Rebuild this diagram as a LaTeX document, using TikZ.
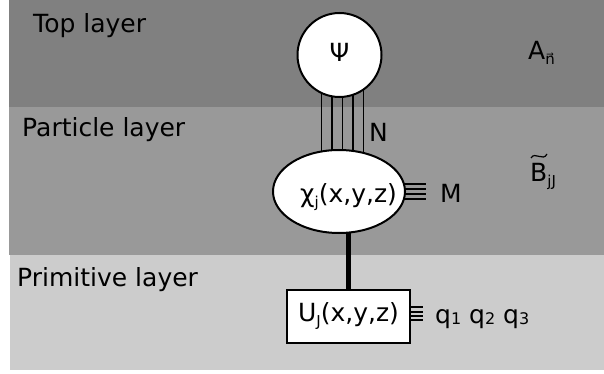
\documentclass[tikz,border=0pt]{standalone}
\usepackage{fontspec}
\setmainfont{DejaVu Sans}
\usetikzlibrary{calc,shapes.geometric}

\definecolor{topband}{HTML}{808080}
\definecolor{partband}{HTML}{999999}
\definecolor{primband}{HTML}{CCCCCC}

% lowered, smaller subscript text
\newcommand{\lowsub}[1]{\raisebox{-0.2em}{\fontsize{15}{15}\selectfont #1}}
% small digit index sitting near the baseline
\newcommand{\digsub}[1]{\raisebox{-1pt}{\fontsize{16}{16}\selectfont #1}}

\pgfdeclarelayer{bands}
\pgfdeclarelayer{links}
\pgfsetlayers{bands,links,main}

\begin{document}
\begin{tikzpicture}[x=1pt,y=-1pt,font=\fontsize{25}{30}\selectfont,
  lbl/.style={anchor=base west,inner sep=0pt},
  wire/.style={line width=1.7pt},
  outline/.style={draw,fill=white,inner sep=0pt}]
\useasboundingbox (0,0) rectangle (604,374);

% layer bands
\begin{pgfonlayer}{bands}
  \fill[topband]  (9,0)    rectangle (604,107);
  \fill[partband] (9,107)  rectangle (604,255);
  \fill[primband] (10,255) rectangle (604,370);
\end{pgfonlayer}

% layer titles
\node[lbl] (toplbl)  at (33,33)  {Top layer};
\node[lbl] (partlbl) at (22,137) {Particle layer};
\node[lbl] (primlbl) at (17,286) {Primitive layer};

% main nodes
\node[outline,circle,line width=2pt,minimum size=84pt] (psi) at (339.5,55) {\raisebox{6pt}{Ψ}};
\node[outline,ellipse,line width=2pt,minimum width=132pt,minimum height=83pt] (chi) at (339,191.5) {};
\node[lbl] (chitext) at (300,202) {χ\lowsub{j}(x,y,z)};
\node[outline,rectangle,line width=1.5pt,minimum width=123pt,minimum height=53pt] (prim) at (348.5,316.5) {U\lowsub{J}(x,y,z)};

% connectors
\begin{pgfonlayer}{links}
  \foreach \dx in {-18,-7.5,3,13.5,24} {
    \path ($(psi.center)+(\dx,0)$) coordinate (t);
    \draw[wire] (t) -- (t |- chi.center);
  }
  \foreach \dy in {-7.5,-2.5,2.5,7.5}
    \draw[wire] ($(chi.east)+(-6,\dy)$) -- ($(chi.east)+(20,\dy)$);
  \foreach \dy in {-9.2,-4.8,-0.5,3.7}
    \draw[wire] ($(prim.east)+(-3,\dy)$) -- ($(prim.east)+(12,\dy)$);
  \draw[line width=4.5pt] (prim.center |- chi.center) -- (prim.center);
\end{pgfonlayer}

% side labels
\node[lbl] (nlbl) at (369,142) {N};
\node[lbl] (mlbl) at (440,202) {M};
\node[lbl] (qlbl) at (435,323) {q\digsub{1} q\digsub{2} q\digsub{3}};
\node[lbl] (albl) at (528,60)  {A\lowsub{n\symbol{"20D7}}};
\node[lbl] (blbl) at (530,182) {B\lowsub{jJ}};
\draw[line width=1.2pt] ($(blbl.base west)+(1,-24)$) .. controls +(4,-7) and +(-4,8) .. ($(blbl.base west)+(17,-28)$);
\end{tikzpicture}
\end{document}
